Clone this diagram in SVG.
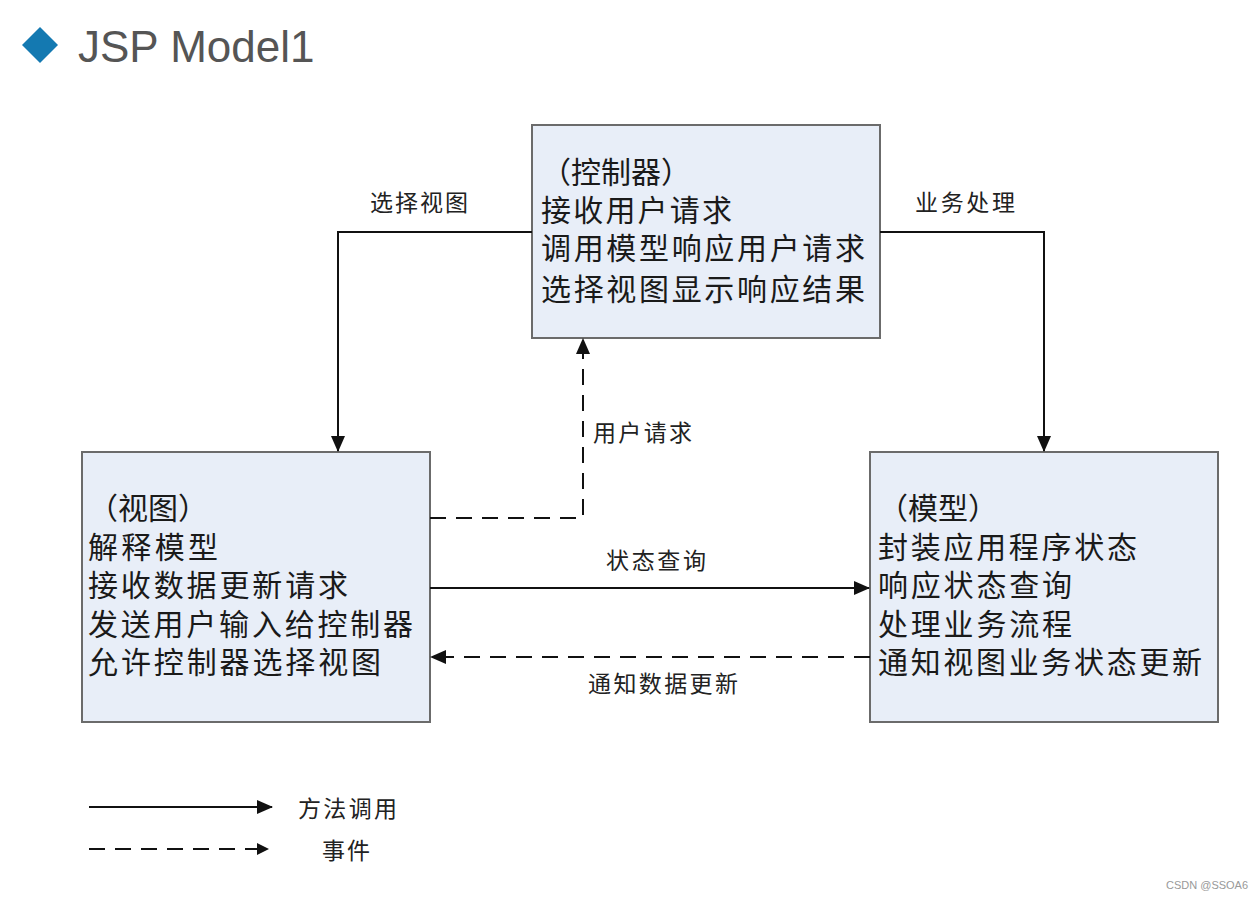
<svg xmlns="http://www.w3.org/2000/svg" width="1254" height="899" viewBox="0 0 1254 899">
<style>
.box{fill:#e8eef8;stroke:#6b6b6b;stroke-width:2}
.bt{font-family:"Noto Sans CJK SC","Noto Sans CJK JP",sans-serif;font-size:30px;fill:#1a1a1a}
.lbl{font-family:"Noto Sans CJK SC","Noto Sans CJK JP",sans-serif;font-size:23px;fill:#222}
.solid{fill:none;stroke:#111;stroke-width:2}
.dash{fill:none;stroke:#111;stroke-width:2;stroke-dasharray:16 10}
</style>
<defs>
<marker id="ah" markerWidth="16" markerHeight="14" refX="15" refY="7" orient="auto" markerUnits="userSpaceOnUse">
<path d="M0,0 L16,7 L0,14 Z" fill="#111"/>
</marker>
<marker id="ahs" markerWidth="12" markerHeight="12" refX="11" refY="6" orient="auto" markerUnits="userSpaceOnUse">
<path d="M0,0 L12,6 L0,12 Z" fill="#111"/>
</marker>
</defs>
<rect width="1254" height="899" fill="#ffffff"/>
<g id="title">
<path d="M40,27 L58,45 L40,63 L22,45 Z" fill="#1479b1"/>
<text x="78" y="62" font-family="Liberation Sans, Arial, sans-serif" font-size="44" fill="#555">JSP Model1</text>
</g>
<g id="controller">
<rect class="box" x="532" y="125" width="348" height="213"/>
<text class="bt" x="541" y="183">（控制器）</text>
<text class="bt" x="541" y="221" textLength="191">接收用户请求</text>
<text class="bt" x="541" y="259" textLength="324">调用模型响应用户请求</text>
<text class="bt" x="541" y="300" textLength="324">选择视图显示响应结果</text>
</g>
<g id="view">
<rect class="box" x="82" y="452" width="348" height="270"/>
<text class="bt" x="88" y="519">（视图）</text>
<text class="bt" x="88" y="558" textLength="130">解释模型</text>
<text class="bt" x="88" y="596" textLength="260">接收数据更新请求</text>
<text class="bt" x="88" y="635" textLength="325">发送用户输入给控制器</text>
<text class="bt" x="88" y="673" textLength="293">允许控制器选择视图</text>
</g>
<g id="model">
<rect class="box" x="870" y="452" width="348" height="270"/>
<text class="bt" x="878" y="519">（模型）</text>
<text class="bt" x="878" y="558" textLength="259">封装应用程序状态</text>
<text class="bt" x="878" y="596" textLength="194">响应状态查询</text>
<text class="bt" x="878" y="635" textLength="194">处理业务流程</text>
<text class="bt" x="878" y="673" textLength="324">通知视图业务状态更新</text>
</g>
<g id="connectors">
<path class="solid" d="M532,232 H338 V451" marker-end="url(#ah)"/>
<path class="solid" d="M880,232 H1044 V451" marker-end="url(#ah)"/>
<path class="dash" d="M430,518 H583 V339" marker-end="url(#ah)"/>
<path class="solid" d="M430,588 H869" marker-end="url(#ah)"/>
<path class="dash" d="M870,657 H431" marker-end="url(#ah)"/>
<text class="lbl" x="370" y="211" textLength="98">选择视图</text>
<text class="lbl" x="915" y="211" textLength="100">业务处理</text>
<text class="lbl" x="593" y="441" textLength="99">用户请求</text>
<text class="lbl" x="606" y="569" textLength="100">状态查询</text>
<text class="lbl" x="588" y="692" textLength="150">通知数据更新</text>
</g>
<g id="legend">
<path class="solid" d="M89,807 H272" marker-end="url(#ah)"/>
<path class="dash" d="M89,849 H268" stroke-dasharray="14 10" marker-end="url(#ahs)"/>
<text class="lbl" x="298" y="817" textLength="99">方法调用</text>
<text class="lbl" x="322" y="859" textLength="48">事件</text>
</g>
<text x="1166" y="889" font-family="Liberation Sans, Arial, sans-serif" font-size="11" fill="#999">CSDN @SSOA6</text>
</svg>
